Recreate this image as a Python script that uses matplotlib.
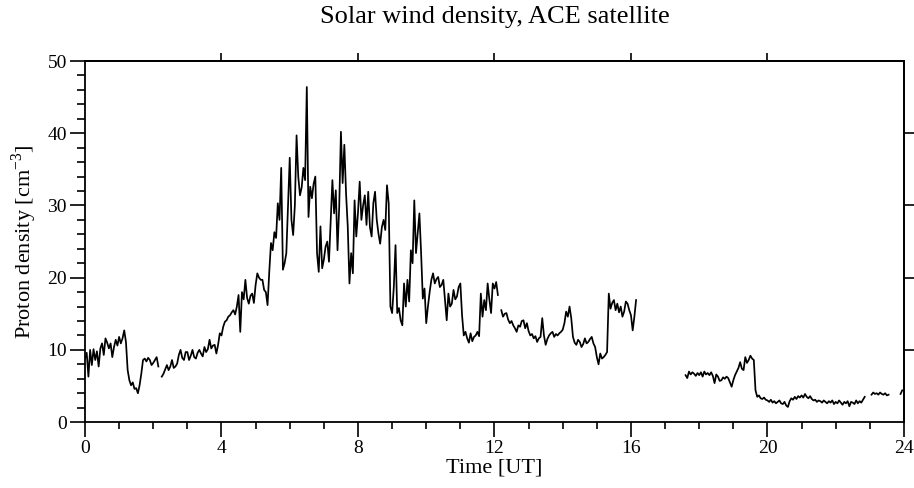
import numpy as np
import matplotlib
matplotlib.use('Agg')
import matplotlib.pyplot as plt

nan = np.nan

# proton density, one row per hour, 0.05 h steps
hour00 = [8.8, 9.6, 6.3, 10.0, 7.9, 10.1, 8.6, 9.8, 7.7, 10.2, 10.9, 9.3, 11.6, 11.0, 10.2, 10.9, 9.0, 10.4, 11.4, 10.6]
hour01 = [11.8, 10.9, 11.6, 12.7, 11.1, 7.2, 5.8, 5.1, 5.5, 4.6, 4.7, 4.0, 5.1, 6.7, 8.6, 8.8, 8.4, 8.9, 8.6, 7.9]
hour02 = [8.2, 8.6, 9.0, 7.7, nan, 6.3, 6.7, 7.3, 7.9, 7.2, 7.7, 8.6, 7.5, 7.7, 8.1, 9.3, 10.0, 8.9, 8.6, 9.7]
hour03 = [9.7, 8.6, 9.2, 10.0, 9.0, 8.8, 9.6, 10.0, 9.5, 9.1, 10.4, 9.7, 10.1, 11.4, 10.2, 10.6, 10.7, 9.5, 10.7, 12.3]
hour04 = [12.0, 13.2, 13.9, 14.1, 14.6, 14.8, 15.2, 15.5, 14.9, 16.0, 17.6, 12.5, 18.0, 17.0, 19.7, 17.2, 16.4, 17.5, 17.8, 16.5]
hour05 = [19.0, 20.6, 20.0, 19.7, 19.7, 18.3, 18.0, 16.2, 20.8, 24.8, 23.8, 26.3, 25.5, 30.3, 28.0, 35.2, 21.1, 22.0, 23.4, 29.8]
hour06 = [36.6, 28.0, 25.9, 30.0, 39.7, 34.0, 31.4, 32.5, 35.2, 33.5, 46.4, 28.4, 32.6, 31.0, 33.0, 34.0, 23.4, 20.8, 27.1, 21.3]
hour07 = [22.5, 24.3, 25.0, 22.2, 28.0, 33.5, 28.9, 32.1, 23.8, 29.8, 40.2, 33.1, 38.4, 31.7, 27.1, 19.2, 23.4, 20.6, 30.7, 25.7]
hour08 = [29.0, 33.3, 28.0, 30.0, 31.4, 27.3, 31.9, 27.0, 25.7, 30.3, 31.9, 28.0, 26.1, 24.7, 27.0, 28.0, 26.6, 32.8, 30.3, 16.0]
hour09 = [15.1, 18.7, 24.5, 15.1, 15.8, 14.1, 13.4, 19.2, 16.0, 19.7, 16.7, 23.8, 22.0, 30.7, 23.4, 26.1, 28.9, 23.4, 17.1, 18.5]
hour10 = [13.7, 16.0, 18.0, 19.7, 20.6, 19.2, 19.8, 20.1, 18.7, 19.0, 19.7, 16.9, 14.1, 17.8, 16.0, 16.4, 18.3, 17.0, 17.4, 18.7]
hour11 = [19.2, 14.8, 12.0, 12.5, 11.6, 11.0, 12.3, 11.2, 11.8, 12.0, 12.5, 11.9, 17.8, 14.6, 16.9, 15.5, 19.2, 17.0, 15.1, 19.2]
hour12 = [18.5, 19.4, 17.6, nan, 15.5, 14.6, 15.0, 15.1, 14.2, 13.7, 14.0, 13.4, 13.0, 12.5, 13.4, 13.2, 14.0, 14.1, 13.0, 13.7]
hour13 = [12.6, 12.0, 12.2, 11.6, 11.9, 11.1, 11.6, 11.8, 14.4, 12.0, 10.7, 11.5, 12.0, 12.3, 12.5, 11.8, 12.2, 12.0, 12.3, 12.5]
hour14 = [12.8, 13.7, 15.3, 14.6, 16.0, 14.4, 11.8, 11.0, 10.7, 11.4, 11.1, 10.4, 10.8, 11.6, 10.9, 11.1, 11.5, 11.8, 10.9, 10.4]
hour15 = [9.0, 8.0, 9.5, 8.8, 9.0, 9.3, 9.7, 17.8, 15.7, 16.5, 16.9, 15.5, 16.4, 15.2, 16.0, 14.6, 15.3, 16.7, 16.4, 15.5]
hour16 = [14.8, 12.7, 14.6, 16.9] + [nan] * 16
hour17 = [nan] * 12 + [6.5, 6.1, 7.0, 6.6, 6.9, 6.7, 6.4, 6.8]
hour18 = [6.5, 6.9, 6.3, 7.0, 6.6, 6.8, 6.5, 6.9, 6.4, 5.4, 6.6, 6.3, 5.7, 5.8, 6.2, 6.0, 6.3, 6.1, 5.5, 4.9]
hour19 = [5.8, 6.5, 7.0, 7.5, 8.3, 7.4, 7.2, 9.0, 8.2, 8.6, 9.2, 8.8, 8.6, 4.4, 3.5, 3.7, 3.3, 3.2, 3.4, 3.1]
hour20 = [3.0, 2.8, 3.1, 2.7, 2.9, 2.6, 2.8, 3.0, 2.6, 2.5, 2.8, 2.3, 2.1, 2.9, 3.3, 3.1, 3.5, 3.2, 3.6, 3.4]
hour21 = [3.7, 3.4, 3.9, 3.5, 3.3, 3.6, 3.2, 3.0, 3.1, 2.8, 3.0, 2.9, 2.7, 3.0, 2.8, 2.6, 2.9, 2.7, 3.0, 2.5]
hour22 = [2.8, 2.6, 3.0, 2.7, 2.4, 2.8, 2.6, 2.9, 2.2, 2.8, 2.7, 2.5, 3.0, 2.6, 2.9, 2.7, 3.1, 3.5, nan, nan]
hour23 = [nan, 3.8, 4.1, 3.9, 4.0, 3.8, 4.1, 3.9, 3.8, 4.0, 3.7, 3.8, nan, 3.6, nan, nan, 3.5, nan, 3.9, 4.4]

density = np.array(hour00 + hour01 + hour02 + hour03 + hour04 + hour05 + hour06 + hour07
                   + hour08 + hour09 + hour10 + hour11 + hour12 + hour13 + hour14 + hour15
                   + hour16 + hour17 + hour18 + hour19 + hour20 + hour21 + hour22 + hour23)
time_ut = np.arange(len(density)) * 0.05

plt.rcParams['font.family'] = ['Liberation Serif', 'DejaVu Serif']
plt.rcParams['mathtext.fontset'] = 'custom'
plt.rcParams['mathtext.rm'] = 'Liberation Serif'

fig = plt.figure(figsize=(9.14, 4.88), dpi=100)
ax = fig.add_axes([0.093, 0.135, 0.896, 0.740])
ax.plot(time_ut, density, color='black', linewidth=1.25)

ax.set_xlim(0, 24)
ax.set_ylim(0, 50)
ax.set_xticks(range(0, 25, 4))
ax.set_xticks(range(0, 25), minor=True)
ax.set_yticks(range(0, 51, 10))
ax.set_yticks(range(0, 51, 2), minor=True)
ax.tick_params(which='major', direction='out', length=11, width=1.2, labelsize=14,
               top=False, right=False)
ax.tick_params(axis='x', which='major', pad=2)
ax.tick_params(axis='y', which='major', pad=2)
ax.tick_params(which='minor', direction='out', length=6, width=1.2, top=False, right=False)
ax.tick_params(axis='x', which='minor', length=5)
for sp in ax.spines.values():
    sp.set_linewidth(1.3)

top = ax.secondary_xaxis('top')
top.set_xticks(range(4, 24, 4))
top.set_xticklabels([])
top.tick_params(direction='out', length=6, width=1.2)
top.spines['top'].set_linewidth(1.3)
right = ax.secondary_yaxis('right')
right.set_yticks(range(10, 50, 10))
right.set_yticklabels([])
right.tick_params(direction='out', length=7, width=1.2)
right.spines['right'].set_linewidth(1.3)

ax.set_xlabel('Time [UT]', fontsize=16, labelpad=1)
ax.set_ylabel('Proton density [cm$^{-3}$]', fontsize=16, labelpad=6)
fig.suptitle('Solar wind density, ACE satellite', fontsize=19, x=0.541, y=0.987)

fig.savefig('out.png', dpi=100)
